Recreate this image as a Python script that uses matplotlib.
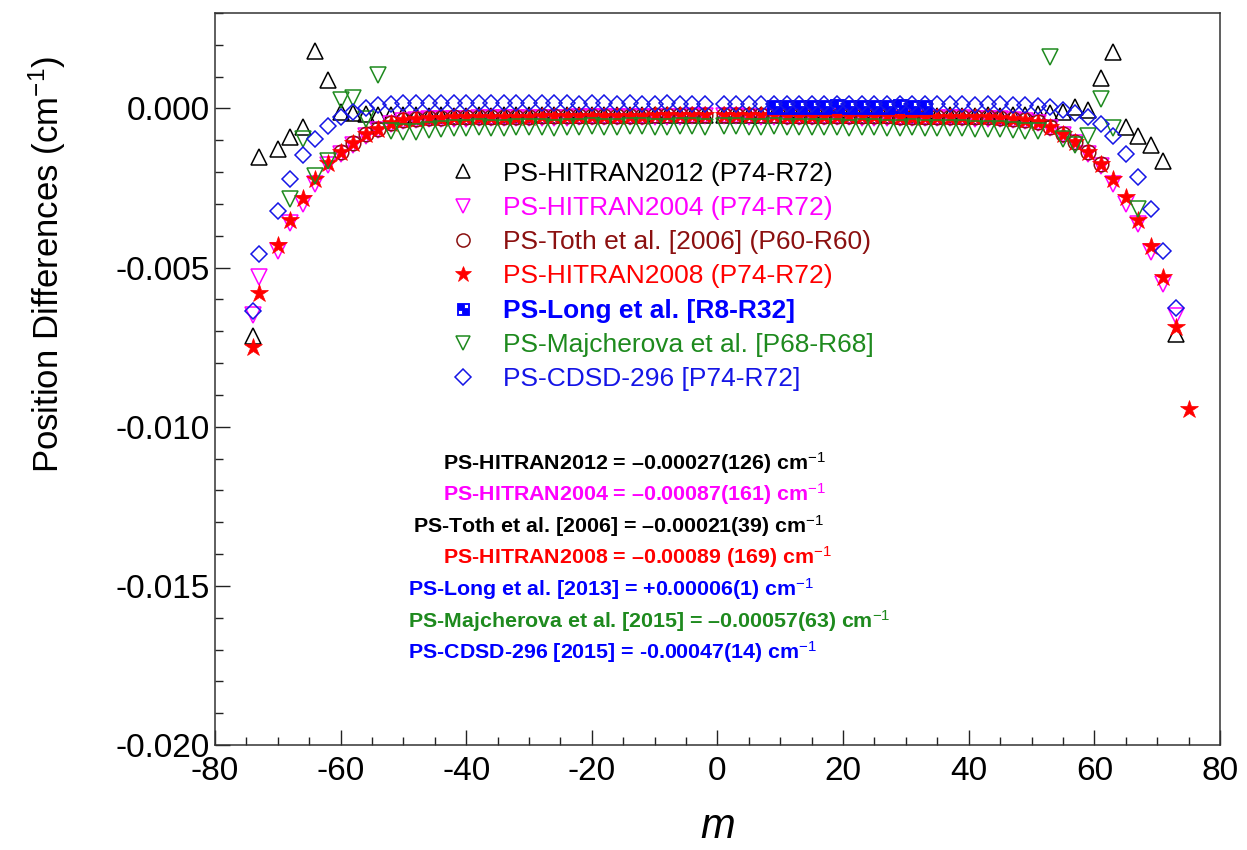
import matplotlib
matplotlib.use('Agg')
import matplotlib.pyplot as plt
from matplotlib.path import Path
from matplotlib.ticker import MultipleLocator, FuncFormatter

plt.rcParams['font.family'] = ['Liberation Sans', 'DejaVu Sans']
plt.rcParams['axes.unicode_minus'] = False
plt.rcParams['mathtext.fontset'] = 'custom'
plt.rcParams['mathtext.rm'] = 'Liberation Sans'
plt.rcParams['mathtext.it'] = 'Liberation Sans:italic'
plt.rcParams['mathtext.bf'] = 'Liberation Sans:bold'

# ---------------- data ----------------
m_P = [-74, -73, -70, -68, -66, -64, -62, -60, -58, -56, -54, -52, -50, -48, -46, -44,
       -42, -40, -38, -36, -34, -32, -30, -28, -26, -24, -22, -20, -18, -16, -14, -12,
       -10, -8, -6, -4, -2]
m_R = [1, 3, 5, 7, 9, 11, 13, 15, 17, 19, 21, 23, 25, 27, 29, 31, 33, 35, 37, 39, 41,
       43, 45, 47, 49, 51, 53, 55, 57, 59, 61, 63, 65, 67, 69, 71, 73]

hitran2012_P = [-0.00714, -0.00153, -0.00127, -0.00090, -0.00059, 0.00180, 0.00090,
                -0.00012, -0.00015, -0.00018, -0.00020, -0.00021, -0.00022, -0.00022,
                -0.00023, -0.00022, -0.00023, -0.00023, -0.00022, -0.00023, -0.00022,
                -0.00022, -0.00021, -0.00022, -0.00021, -0.00021, -0.00022, -0.00021,
                -0.00021, -0.00020, -0.00021, -0.00020, -0.00020, -0.00020, -0.00019,
                -0.00019, -0.00020]
hitran2012_R = [-0.00020, -0.00020, -0.00021, -0.00021, -0.00020, -0.00021, -0.00021,
                -0.00022, -0.00021, -0.00022, -0.00022, -0.00021, -0.00022, -0.00022,
                -0.00023, -0.00022, -0.00023, -0.00023, -0.00022, -0.00023, -0.00023,
                -0.00022, -0.00023, -0.00022, -0.00021, -0.00018, -0.00014, -0.00010,
                0.00005, -0.00004, 0.00097, 0.00177, -0.00057, -0.00088, -0.00116,
                -0.00164, -0.00708]

hitran2004_P = [-0.00650, -0.00530, -0.00447, -0.00360, -0.00300, -0.00237, -0.00176,
                -0.00142, -0.00114, -0.00086, -0.00067, -0.00050, -0.00040, -0.00036,
                -0.00034, -0.00033, -0.00032, -0.00032, -0.00031, -0.00031, -0.00030,
                -0.00030, -0.00030, -0.00029, -0.00029, -0.00029, -0.00028, -0.00028,
                -0.00028, -0.00027, -0.00027, -0.00027, -0.00026, -0.00026, -0.00026,
                -0.00025, -0.00025]
hitran2004_R = [-0.00025, -0.00025, -0.00026, -0.00026, -0.00026, -0.00027, -0.00027,
                -0.00027, -0.00028, -0.00028, -0.00028, -0.00029, -0.00029, -0.00029,
                -0.00030, -0.00030, -0.00030, -0.00031, -0.00031, -0.00031, -0.00032,
                -0.00032, -0.00033, -0.00036, -0.00040, -0.00046, -0.00062, -0.00083,
                -0.00110, -0.00142, -0.00180, -0.00236, -0.00300, -0.00362, -0.00452,
                -0.00551, -0.00651]

m_toth = [-60, -58, -56, -54, -52, -50, -48, -46, -44, -42, -40, -38, -36, -34, -32,
          -30, -28, -26, -24, -22, -20, -18, -16, -14, -12, -10, -8, -6, -4, -2,
          1, 3, 5, 7, 9, 11, 13, 15, 17, 19, 21, 23, 25, 27, 29, 31, 33, 35, 37, 39,
          41, 43, 45, 47, 49, 51, 53, 55, 57, 59, 61]
toth = [-0.00137, -0.00110, -0.00081, -0.00063, -0.00046, -0.00036, -0.00032, -0.00030,
        -0.00029, -0.00028, -0.00028, -0.00027, -0.00027, -0.00026, -0.00026, -0.00026,
        -0.00025, -0.00025, -0.00025, -0.00024, -0.00024, -0.00024, -0.00023, -0.00023,
        -0.00023, -0.00022, -0.00022, -0.00022, -0.00021, -0.00021,
        -0.00021, -0.00021, -0.00022, -0.00022, -0.00022, -0.00023, -0.00023, -0.00023,
        -0.00024, -0.00024, -0.00024, -0.00025, -0.00025, -0.00025, -0.00026, -0.00026,
        -0.00026, -0.00027, -0.00027, -0.00027, -0.00028, -0.00028, -0.00029, -0.00032,
        -0.00036, -0.00043, -0.00059, -0.00080, -0.00106, -0.00137, -0.00174]

m_2008_R = [1, 3, 5, 7, 9, 11, 13, 15, 17, 19, 21, 23, 25, 27, 29, 31, 33, 35, 37, 39,
            41, 43, 45, 47, 49, 51, 53, 55, 57, 59, 61, 63, 65, 67, 69, 71, 73, 75]
hitran2008_P = [-0.00750, -0.00580, -0.00430, -0.00350, -0.00280, -0.00220, -0.00170,
                -0.00137, -0.00110, -0.00081, -0.00063, -0.00046, -0.00036, -0.00032,
                -0.00030, -0.00029, -0.00028, -0.00028, -0.00027, -0.00027, -0.00026,
                -0.00026, -0.00026, -0.00025, -0.00025, -0.00025, -0.00024, -0.00024,
                -0.00024, -0.00023, -0.00023, -0.00023, -0.00022, -0.00022, -0.00022,
                -0.00021, -0.00021]
hitran2008_R = [-0.00021, -0.00021, -0.00022, -0.00022, -0.00022, -0.00023, -0.00023,
                -0.00023, -0.00024, -0.00024, -0.00024, -0.00025, -0.00025, -0.00025,
                -0.00026, -0.00026, -0.00026, -0.00027, -0.00027, -0.00027, -0.00028,
                -0.00028, -0.00029, -0.00032, -0.00036, -0.00043, -0.00059, -0.00080,
                -0.00106, -0.00137, -0.00174, -0.00221, -0.00279, -0.00350, -0.00431,
                -0.00530, -0.00686, -0.00944]

m_long = [9, 11, 13, 15, 17, 19, 21, 23, 25, 27, 29, 31, 33]
long2013 = [0.00005, 0.00006, 0.00006, 0.00005, 0.00006, 0.00007, 0.00006, 0.00006,
            0.00005, 0.00006, 0.00007, 0.00006, 0.00006]

m_maj = [-68, -66, -64, -62, -60, -58, -56, -54, -52, -50, -48, -46, -44, -42, -40, -38,
         -36, -34, -32, -30, -28, -26, -24, -22, -20, -18, -16, -14, -12, -10, -8, -6,
         -4, -2, 1, 3, 5, 7, 9, 11, 13, 15, 17, 19, 21, 23, 25, 27, 29, 31, 33, 35, 37,
         39, 41, 43, 45, 47, 49, 51, 53, 55, 57, 59, 61, 63, 67]
majcherova = [-0.00285, -0.00095, -0.00213, -0.00164, 0.00027, 0.00033, -0.00033, 0.00104,
              -0.00070, -0.00075, -0.00074, -0.00068, -0.00063, -0.00062, -0.00060,
              -0.00058, -0.00060, -0.00061, -0.00059, -0.00057, -0.00058, -0.00060,
              -0.00059, -0.00057, -0.00056, -0.00058, -0.00057, -0.00055, -0.00056,
              -0.00058, -0.00057, -0.00055, -0.00056, -0.00057,
              -0.00056, -0.00055, -0.00057, -0.00058, -0.00056, -0.00057, -0.00059,
              -0.00058, -0.00057, -0.00059, -0.00060, -0.00058, -0.00059, -0.00061,
              -0.00060, -0.00059, -0.00061, -0.00062, -0.00060, -0.00062, -0.00063,
              -0.00064, -0.00066, -0.00068, -0.00070, -0.00072, 0.00161, -0.00095,
              -0.00116, -0.00085, 0.00030, -0.00062, -0.00315]

cdsd_P = [-0.00635, -0.00456, -0.00321, -0.00220, -0.00147, -0.00095, -0.00056,
          -0.00027, -0.00012, 0.00002, 0.00010, 0.00014, 0.00016, 0.00016, 0.00017,
          0.00017, 0.00016, 0.00017, 0.00017, 0.00016, 0.00017, 0.00016, 0.00016,
          0.00017, 0.00016, 0.00016, 0.00015, 0.00016, 0.00016, 0.00015, 0.00016,
          0.00015, 0.00015, 0.00016, 0.00015, 0.00015, 0.00015]
cdsd_R = [0.00015, 0.00015, 0.00014, 0.00015, 0.00014, 0.00014, 0.00015, 0.00014,
          0.00014, 0.00014, 0.00013, 0.00014, 0.00014, 0.00013, 0.00014, 0.00013,
          0.00013, 0.00014, 0.00013, 0.00013, 0.00012, 0.00013, 0.00013, 0.00012,
          0.00011, 0.00009, 0.00005, -0.00006, -0.00013, -0.00027, -0.00048, -0.00088,
          -0.00144, -0.00214, -0.00315, -0.00449, -0.00627]

labels = ['PS-HITRAN2012 (P74-R72)', 'PS-HITRAN2004 (P74-R72)',
          'PS-Toth et al. [2006] (P60-R60)', 'PS-HITRAN2008 (P74-R72)',
          'PS-Long et al. [R8-R32]', 'PS-Majcherova et al. [P68-R68]',
          'PS-CDSD-296 [P74-R72]']
colors = ['#000000', '#FF00FF', '#8B1010', '#FF0000', '#0000FF', '#1E8A1E', '#1515E6']

summary = ['PS-HITRAN2012 = \u20130.00027(126) cm$^{-1}$',
           'PS-HITRAN2004 = \u20130.00087(161) cm$^{-1}$',
           'PS-Toth et al. [2006] = \u20130.00021(39) cm$^{-1}$',
           'PS-HITRAN2008 = \u20130.00089 (169) cm$^{-1}$',
           'PS-Long et al. [2013] = +0.00006(1) cm$^{-1}$',
           'PS-Majcherova et al. [2015] = \u20130.00057(63) cm$^{-1}$',
           'PS-CDSD-296 [2015] = -0.00047(14) cm$^{-1}$']
summary_colors = ['#000000', '#FF00FF', '#000000', '#FF0000', '#0000FF', '#1E8A1E', '#0000FF']

# ---------------- figure ----------------
fig = plt.figure(figsize=(12.47, 8.5), dpi=100)
ax = fig.add_axes([0.1724, 0.1235, 0.8059, 0.8612])

mew = 1.1
ax.plot(m_P + m_R, hitran2012_P + hitran2012_R, ls='none', marker='^', ms=11.5,
        mfc='none', mec=colors[0], mew=mew, label=labels[0])
ax.plot(m_P + m_R, hitran2004_P + hitran2004_R, ls='none', marker='v', ms=11.5,
        mfc='none', mec=colors[1], mew=mew, label=labels[1])
ax.plot(m_toth, toth, ls='none', marker='o', ms=10.5,
        mfc='none', mec=colors[2], mew=mew, label=labels[2])
ax.plot(m_P + m_2008_R, hitran2008_P + hitran2008_R, ls='none', marker='*', ms=13.5,
        mfc=colors[3], mec=colors[3], mew=0.5, label=labels[3])

# checkered square marker
verts = [(-1, -1), (1, -1), (1, 1), (-1, 1), (-1, -1),
         (0.12, 0.12), (0.12, 0.78), (0.78, 0.78), (0.78, 0.12), (0.12, 0.12),
         (-0.78, -0.78), (-0.78, -0.12), (-0.12, -0.12), (-0.12, -0.78), (-0.78, -0.78)]
codes = [Path.MOVETO, Path.LINETO, Path.LINETO, Path.LINETO, Path.CLOSEPOLY] * 3
check = Path(verts, codes)
ax.plot(m_long, long2013, ls='none', marker=check, ms=10,
        mfc=colors[4], mec=colors[4], mew=0.6, label=labels[4])
ax.plot(m_maj, majcherova, ls='none', marker='v', ms=11.5,
        mfc='none', mec=colors[5], mew=mew, label=labels[5])
ax.plot(m_P + m_R, cdsd_P + cdsd_R, ls='none', marker='D', ms=8.5,
        mfc='none', mec=colors[6], mew=mew, label=labels[6])

ax.set_xlim(-80, 80)
ax.set_ylim(-0.020, 0.003)
ax.xaxis.set_major_locator(MultipleLocator(20))
ax.xaxis.set_minor_locator(MultipleLocator(5))
ax.yaxis.set_major_locator(MultipleLocator(0.005))
ax.yaxis.set_minor_locator(MultipleLocator(0.001))
ax.yaxis.set_major_formatter(FuncFormatter(lambda v, p: '0.000' if abs(v) < 1e-9 else f'{v:.3f}'))
ax.xaxis.set_major_formatter(FuncFormatter(lambda v, p: f'{v:.0f}'))
ax.tick_params(which='both', direction='in', top=False, right=False, width=1.0,
               colors='#222222', labelcolor='black', labelsize=24)
ax.tick_params(which='major', length=10.5)
ax.tick_params(which='minor', length=5.5)
ax.tick_params(axis='x', pad=8)
ax.tick_params(axis='y', pad=4)
for s in ax.spines.values():
    s.set_linewidth(1.1)
    s.set_color('#333333')

ax.set_xlabel('m', fontsize=30, fontstyle='italic')
ax.xaxis.set_label_coords(0.5, -0.085)
ax.set_ylabel('Position Differences (cm$^{-1}$)', fontsize=25)
ax.yaxis.set_label_coords(-0.146, 0.656)

leg = ax.legend(loc='upper left', bbox_to_anchor=(0.234, 0.797), frameon=False,
                fontsize=19, handlelength=1.0, handletextpad=1.0, labelspacing=0.39,
                borderpad=0, borderaxespad=0, markerscale=0.9)
for t, c in zip(leg.get_texts(), colors):
    t.set_color(c)
leg.get_texts()[4].set_fontweight('bold')

xs = [0.227, 0.227, 0.197, 0.227, 0.192, 0.192, 0.192]
ys = [0.385, 0.343, 0.299, 0.257, 0.213, 0.169, 0.127]
for x, y, s, c in zip(xs, ys, summary, summary_colors):
    ax.text(x, y, s, transform=ax.transAxes, fontsize=15.4, fontweight='bold',
            color=c, ha='left', va='center')

fig.savefig('out.png', dpi=100)
